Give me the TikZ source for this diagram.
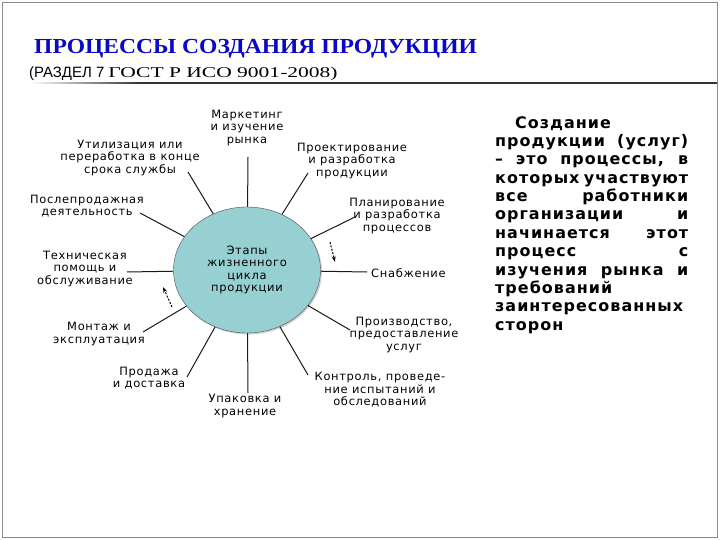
\documentclass[tikz,border=0pt]{standalone}
\usepackage{fontspec}
\setmainfont{DejaVu Sans}
\newfontfamily\lblfont[LetterSpace=6]{DejaVu Sans}
\newfontfamily\txtfont[LetterSpace=6.5]{DejaVu Sans}
\newfontfamily\ttlfont[FakeStretch=1.1]{Liberation Serif}
\newfontfamily\subsans{Liberation Sans}
\newfontfamily\subserif[FakeStretch=1.44]{Liberation Serif}
\usetikzlibrary{shapes.geometric,shadows,arrows.meta}
\definecolor{ttlblue}{RGB}{8,8,200}
\definecolor{cycfill}{RGB}{150,208,210}
\newcommand{\jline}[1]{\makebox[193bp][s]{#1}}

\begin{document}
\begin{tikzpicture}[x=1bp, y=-1bp,
    stage/.style={font=\lblfont\fontsize{11.5}{12.5}\selectfont, align=center, inner sep=0pt},
    spoke/.style={draw=black!90, line width=1bp},
    hint/.style={-{Stealth[length=6bp,width=4bp]}, dash pattern=on 2bp off 1.5bp, line width=1bp}]
      \useasboundingbox (0,0) rectangle (720,540);
      % slide frame
      \draw[black!45] (2,2) rectangle (717,537);
      % title and subtitle
      \fill[yellow!3] (32,33) rectangle (480,58);
      \node[anchor=base west, inner sep=0pt, text=ttlblue, font=\ttlfont\bfseries\fontsize{21.5}{24}\selectfont] (title) at (34,54) {ПРОЦЕССЫ СОЗДАНИЯ ПРОДУКЦИИ};
      \node[anchor=base west, inner sep=0pt, font=\fontsize{15}{18}\selectfont] (sub) at (29,78) {\subsans(РАЗДЕЛ 7 \subserif ГОСТ Р ИСО 9001-2008)};
      % rule under the heading
      \shade[left color=white, right color=black!80] (30,82.4) rectangle (140,83.6);
      \draw[black!80, line width=1.2bp] (140,83) -- (717,83);
      % life cycle in the middle
      \node[ellipse, draw=black!70, fill=cycfill, minimum width=147bp, minimum height=126bp, inner sep=0pt,
            drop shadow={shadow xshift=1.5bp, shadow yshift=-1.5bp, opacity=0.35}, stage] (cyc) at (247,270)
            {Этапы\\жизненного\\цикла\\продукции};
      % stages round it
      \node[stage] (mkt) at (247,128) {Маркетинг\\и изучение\\рынка};
      \node[stage] (proj) at (352,161) {Проектирование\\и разработка\\продукции};
      \node[stage] (plan) at (397,216) {Планирование\\и разработка\\процессов};
      \node[stage, anchor=west] (supply) at (371,273) {Снабжение};
      \node[stage] (prod) at (404,335) {Производство,\\предоставление\\услуг};
      \node[stage] (ctrl) at (380,390) {Контроль, проведе-\\ние испытаний и\\обследований};
      \node[stage] (pack) at (245,406) {Упаковка и\\хранение};
      \node[stage] (sale) at (149,378) {Продажа\\и доставка};
      \node[stage] (mount) at (99,334) {Монтаж и\\эксплуатация};
      \node[stage] (tech) at (85,269) {Техническая\\помощь и\\обслуживание};
      \node[stage] (after) at (87,206) {Послепродажная\\деятельность};
      \node[stage] (util) at (130,158) {Утилизация или\\переработка в конце\\срока службы};
      % outer ends of the spokes
      \coordinate (mktend) at (248,157);
      \coordinate (projend) at (308,173);
      \coordinate (planend) at (355,217);
      \coordinate (supplyend) at (367,272);
      \coordinate (prodend) at (350,330);
      \coordinate (ctrlend) at (308,375);
      \coordinate (packend) at (248,393);
      \coordinate (saleend) at (187,377);
      \coordinate (mountend) at (143,332);
      \coordinate (techend) at (127,272);
      \coordinate (afterend) at (140,213);
      \coordinate (utilend) at (188,172);
      \draw[spoke] (mktend) -- (cyc);
      \draw[spoke] (projend) -- (cyc);
      \draw[spoke] (planend) -- (cyc);
      \draw[spoke] (supplyend) -- (cyc);
      \draw[spoke] (prodend) -- (cyc);
      \draw[spoke] (ctrlend) -- (cyc);
      \draw[spoke] (packend) -- (cyc);
      \draw[spoke] (saleend) -- (cyc);
      \draw[spoke] (mountend) -- (cyc);
      \draw[spoke] (techend) -- (cyc);
      \draw[spoke] (afterend) -- (cyc);
      \draw[spoke] (utilend) -- (cyc);
      % direction of the cycle
      \coordinate (hinta) at (330,242);
      \coordinate (hintb) at (335,262);
      \coordinate (hintc) at (172,307);
      \coordinate (hintd) at (163,287);
      \draw[hint] (hinta) -- (hintb);
      \draw[hint] (hintc) -- (hintd);
      % text on the right
      \node[anchor=north west, inner sep=0pt, align=left, font=\txtfont\bfseries\fontsize{16}{18.45}\selectfont] (note) at (495,116)
        {\hspace*{20bp}Создание\\
         \jline{продукции (услуг)}\\
         \jline{– это процессы, в}\\
         \jline{которых участвуют}\\
         \jline{все работники}\\
         \jline{организации и}\\
         \jline{начинается этот}\\
         \jline{процесс с}\\
         \jline{изучения рынка и}\\
         требований\\
         \jline{заинтересованных}\\
         сторон};
\end{tikzpicture}
\end{document}
